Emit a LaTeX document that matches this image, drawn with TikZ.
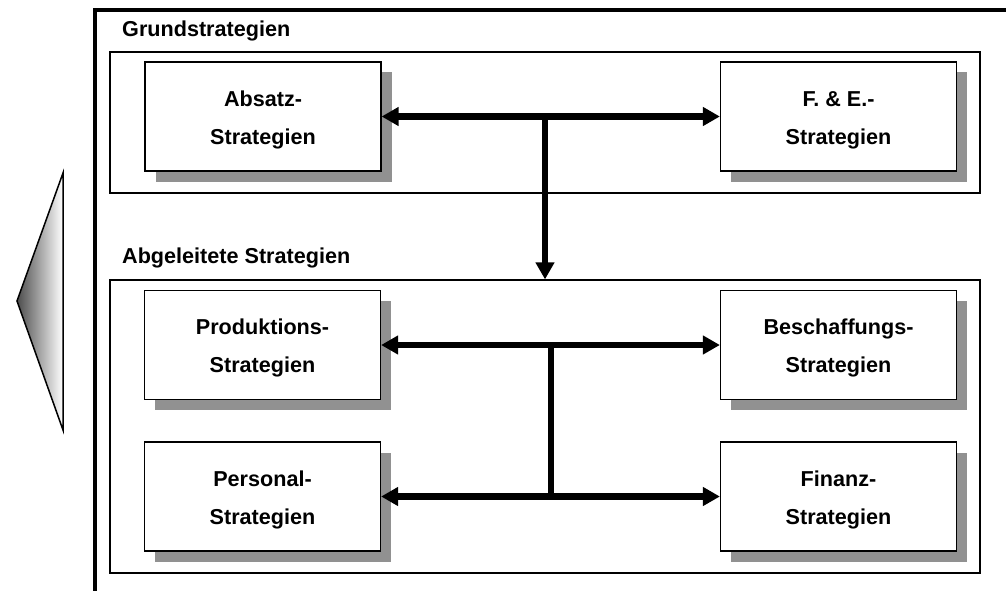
\documentclass[tikz,border=0pt]{standalone}
\usepackage{fontspec}
\setmainfont{Liberation Sans}
\usetikzlibrary{positioning}
\usetikzlibrary{shadows}
\usetikzlibrary{arrows.meta}
\definecolor{shadowgray}{RGB}{145,145,145}
\newcommand{\firstline}{\rule{0pt}{22.5pt}}

\begin{document}
\begin{tikzpicture}[x=1pt, y=-1pt,
  stratbox/.style={draw, line width=1.2pt, fill=white, minimum width=236pt, minimum height=109pt, inner sep=0pt,
    align=center, font=\bfseries\fontsize{21.6}{38}\selectfont,
    drop shadow={shadow xshift=10.5pt, shadow yshift=-10.5pt, fill=shadowgray, opacity=1}},
  groupbox/.style={draw, line width=1.2pt, minimum width=870pt, inner sep=0pt},
  heading/.style={anchor=base west, inner sep=0pt, font=\bfseries\fontsize{21.6}{25}\selectfont},
  link/.style={line width=6.5pt, {Triangle[length=17pt,width=18pt]}-{Triangle[length=17pt,width=18pt]}},
  down/.style={line width=6.5pt, -{Triangle[length=17pt,width=18pt]}},
  bar/.style={line width=6.5pt, line cap=rect}
]
\useasboundingbox (0,0) rectangle (1006,591);

% outer frame and wedge
\draw[line width=4pt] (95,591) -- (95,10) -- (1006,10);
\draw[line width=1.5pt, left color=black!70, right color=white] (63,173) -- (17,301) -- (63,430) -- cycle;

\begin{scope}
\node[heading] at (122,36.5) (grundhead) {Grundstrategien};
\node[groupbox, minimum height=141pt] at (545,122.5) (grund) {};
\node[stratbox] at (263,116.5) (absatz) {\firstline Absatz-\\Strategien};
\node[stratbox] at (838.5,116.5) (fe) {\firstline F. \& E.-\\Strategien};
\end{scope}

\begin{scope}
\node[heading] at (122,263) (abgelhead) {Abgeleitete Strategien};
\node[groupbox, minimum height=293pt] at (545,426.5) (abgel) {};
\node[stratbox] at (262.5,345) (prod) {\firstline Produktions-\\Strategien};
\node[stratbox] at (262.5,496.5) (pers) {\firstline Personal-\\Strategien};
\node[stratbox] at (838.5,345) (besch) {\firstline Beschaffungs-\\Strategien};
\node[stratbox] at (838.5,496.5) (finanz) {\firstline Finanz-\\Strategien};
\end{scope}

\coordinate (topjoin) at (absatz.east -| abgel.north);
\coordinate (barx) at (551,0);

\draw[link] (absatz) -- (fe);
\draw[down] (topjoin) -- (abgel.north);
\draw[link] (prod) -- (besch);
\draw[link] (pers) -- (finanz);
\draw[bar] (prod.east -| barx) -- (pers.east -| barx);

\end{tikzpicture}
\end{document}
